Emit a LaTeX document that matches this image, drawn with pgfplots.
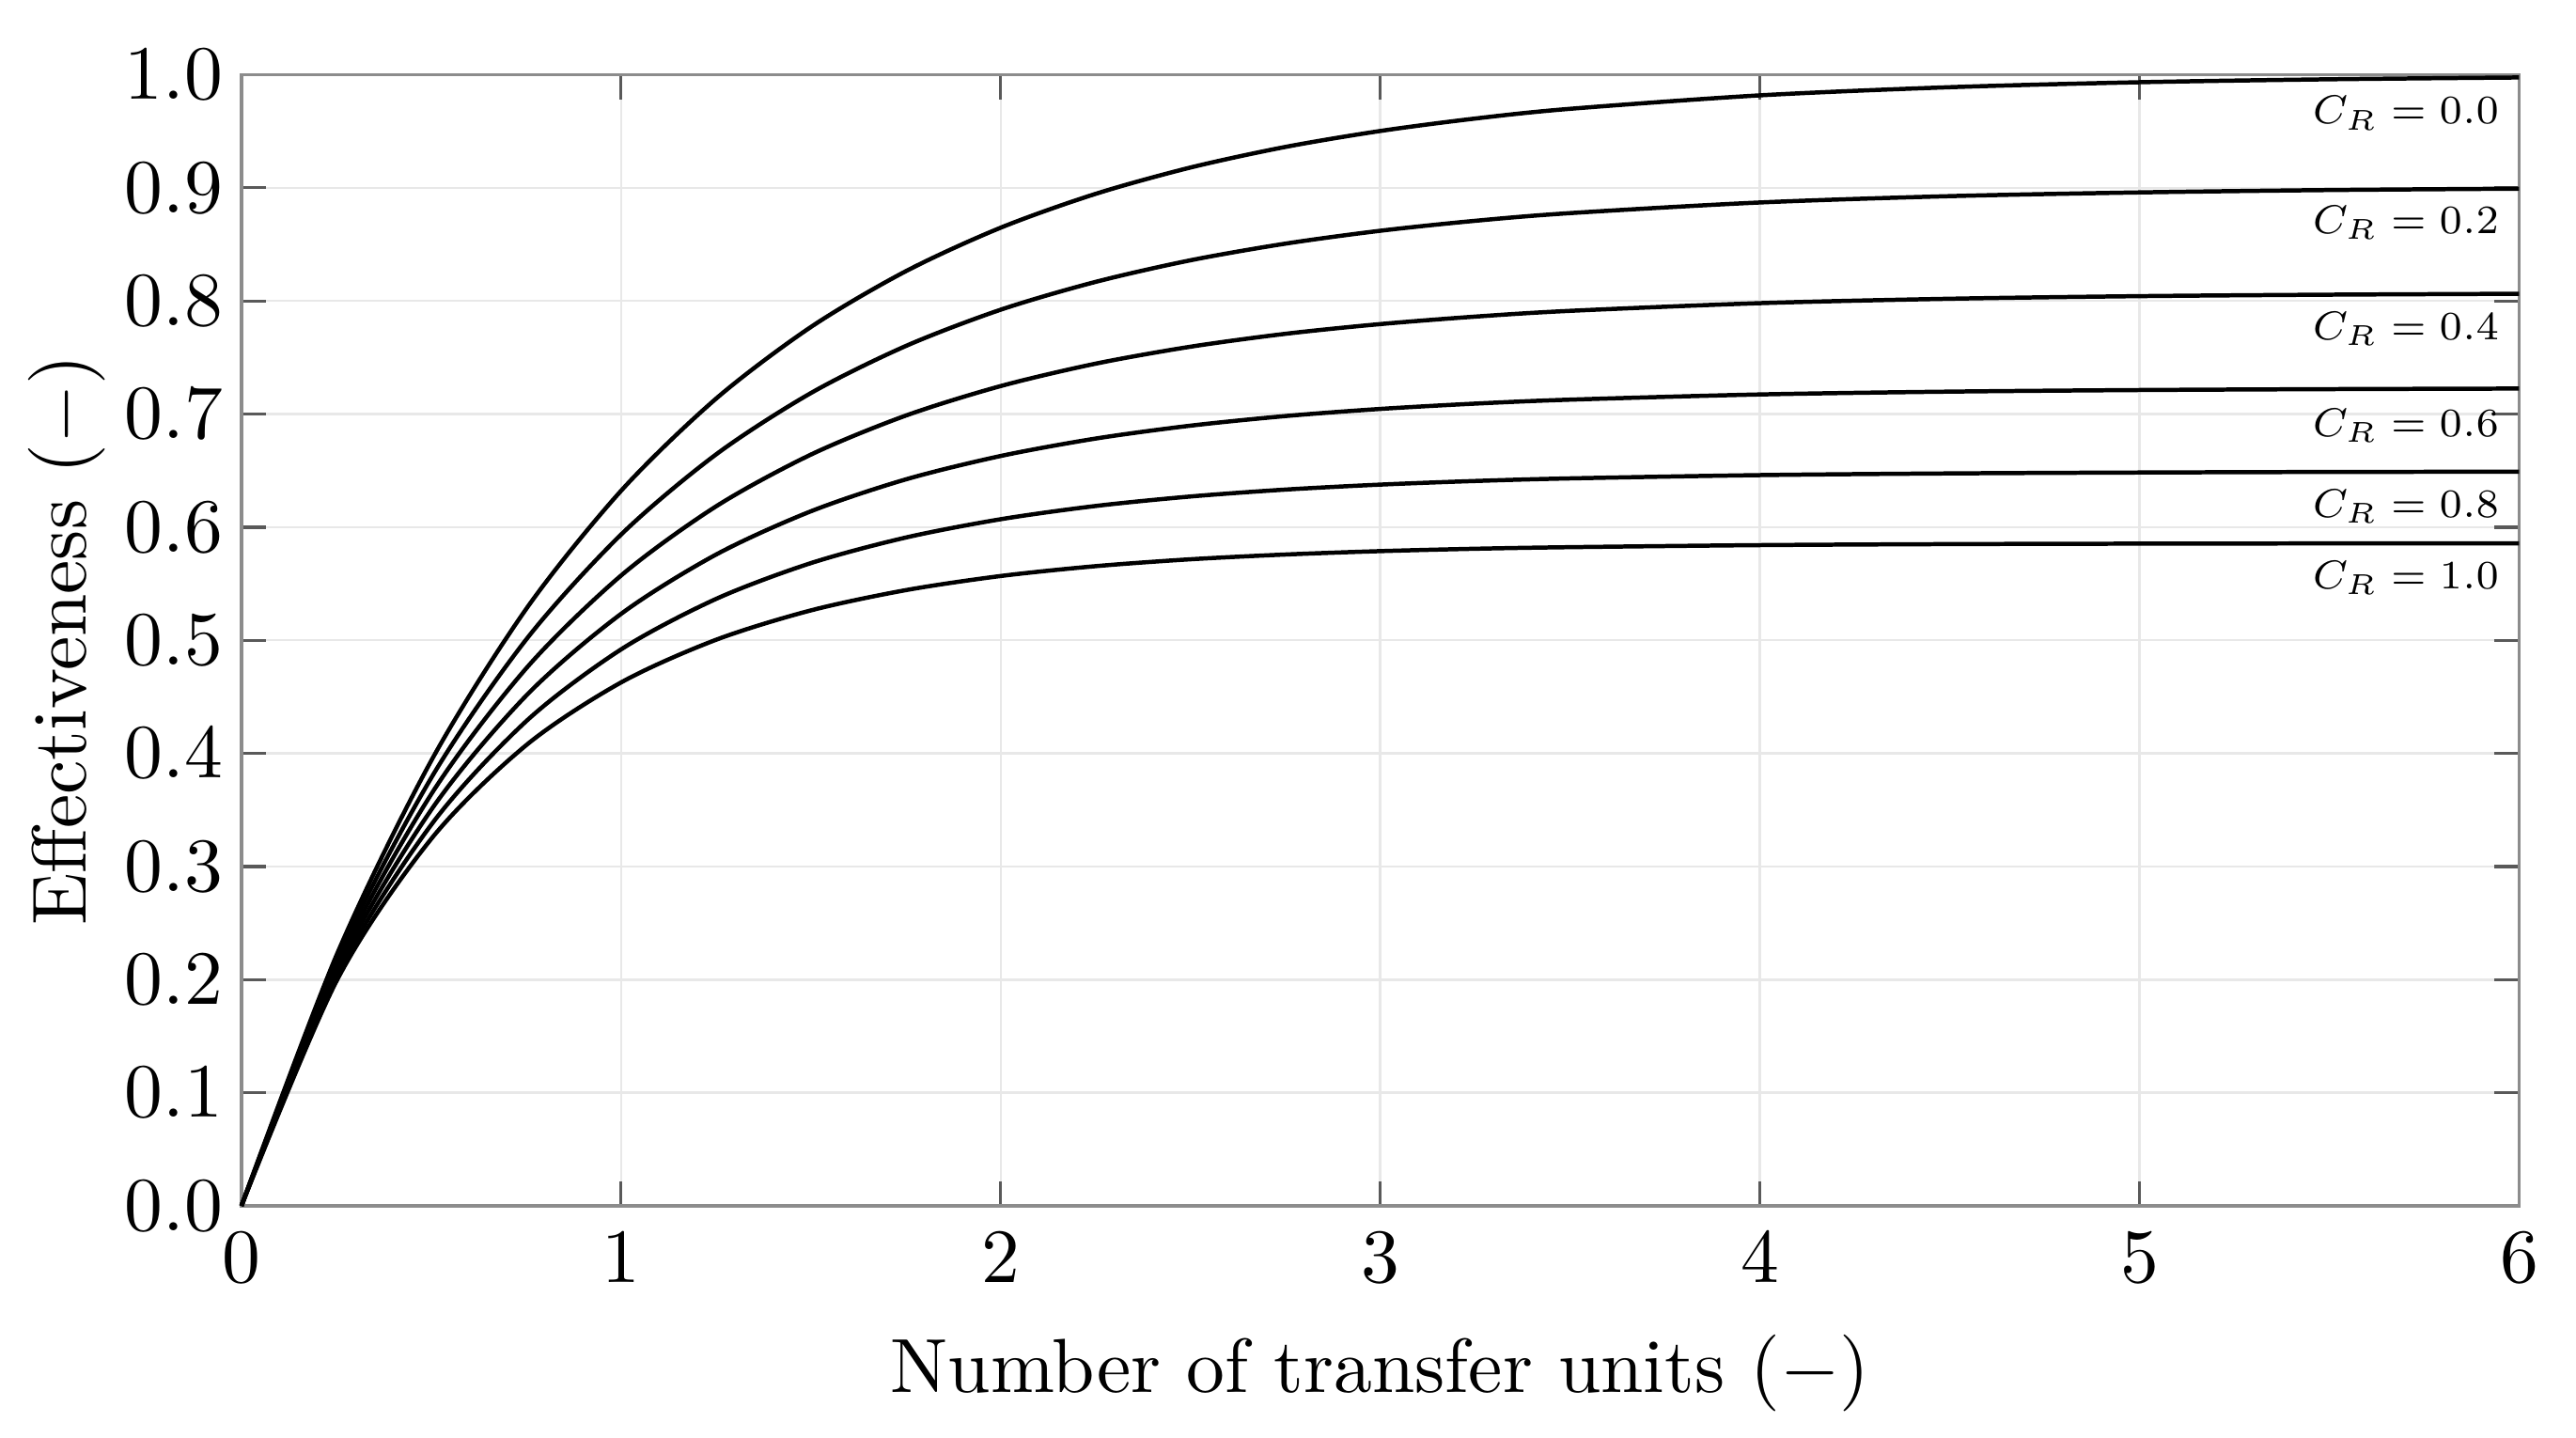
\documentclass[border=0pt]{standalone}
\usepackage{pgfplots}
\pgfplotsset{compat=1.18}
\usepackage{pgfplotstable}

\tikzset{crlabel/.style={anchor=east, inner sep=0pt, font=\scriptsize, scale=0.75}}

% effectiveness vs NTU, one column per capacity ratio
\pgfplotstableread{
ntu  cr00   cr02   cr04   cr06   cr08   cr10
0    0      0      0      0      0      0
0.25 0.2212 0.2164 0.2117 0.2071 0.2027 0.1984
0.5  0.3935 0.3783 0.3639 0.3501 0.3369 0.3244
0.75 0.5276 0.5006 0.4751 0.4510 0.4284 0.4072
1.0  0.6321 0.5934 0.5572 0.5233 0.4919 0.4627
1.25 0.7135 0.6642 0.6183 0.5757 0.5365 0.5004
1.5  0.7769 0.7185 0.6641 0.6140 0.5682 0.5264
1.75 0.8262 0.7601 0.6986 0.6422 0.5908 0.5443
2.0  0.8647 0.7922 0.7247 0.6629 0.6070 0.5568
2.25 0.8946 0.8168 0.7445 0.6783 0.6187 0.5655
2.5  0.9179 0.8359 0.7595 0.6897 0.6271 0.5716
2.75 0.9361 0.8506 0.7709 0.6982 0.6332 0.5758
3.0  0.9502 0.8620 0.7795 0.7045 0.6376 0.5788
3.25 0.9612 0.8708 0.7861 0.7092 0.6408 0.5809
3.5  0.9698 0.8776 0.7912 0.7127 0.6431 0.5823
4.0  0.9817 0.8870 0.7980 0.7173 0.6460 0.5841
4.5  0.9889 0.8926 0.8019 0.7198 0.6475 0.5850
5.0  0.9933 0.8959 0.8042 0.7212 0.6483 0.5854
5.5  0.9959 0.8980 0.8055 0.7220 0.6488 0.5856
6.0  0.9975 0.8992 0.8063 0.7225 0.6490 0.5857
}\effdata

\begin{document}
\begin{tikzpicture}
\begin{axis}[
  scale only axis,
  width=297pt,
  height=147.5pt,
  xmin=0, xmax=6,
  ymin=0, ymax=1,
  xtick={0,1,2,3,4,5,6},
  ytick={0,0.1,0.2,0.3,0.4,0.5,0.6,0.7,0.8,0.9,1.0},
  yticklabel style={xshift=1.1pt, /pgf/number format/.cd, fixed, fixed zerofill, precision=1},
  xlabel={Number of transfer units ($-$)},
  ylabel={Effectiveness ($-$)},
  ylabel shift=-4.3pt,
  grid=major,
  major grid style={black!9, line width=0.3pt},
  axis line style={black!45, line width=0.4pt},
  tick style={black!65, line width=0.4pt},
  major tick length=3.2pt,
  clip=false,
  every axis plot post/.append style={black, solid, line width=0.55pt, smooth, mark=none},
]
\addplot table[x=ntu, y=cr00] {\effdata};
\addplot table[x=ntu, y=cr02] {\effdata};
\addplot table[x=ntu, y=cr04] {\effdata};
\addplot table[x=ntu, y=cr06] {\effdata};
\addplot table[x=ntu, y=cr08] {\effdata};
\addplot table[x=ntu, y=cr10] {\effdata};

\node[crlabel] at (axis cs:5.95,0.966) {$C_R = 0.0$};
\node[crlabel] at (axis cs:5.95,0.869) {$C_R = 0.2$};
\node[crlabel] at (axis cs:5.95,0.775) {$C_R = 0.4$};
\node[crlabel] at (axis cs:5.95,0.690) {$C_R = 0.6$};
\node[crlabel] at (axis cs:5.95,0.618) {$C_R = 0.8$};
\node[crlabel] at (axis cs:5.95,0.555) {$C_R = 1.0$};

\coordinate (bbsw) at (rel axis cs:-0.106,-0.201);
\coordinate (bbne) at (rel axis cs:1.025,1.066);
\end{axis}
\path (bbsw) rectangle (bbne);
\end{tikzpicture}
\end{document}
